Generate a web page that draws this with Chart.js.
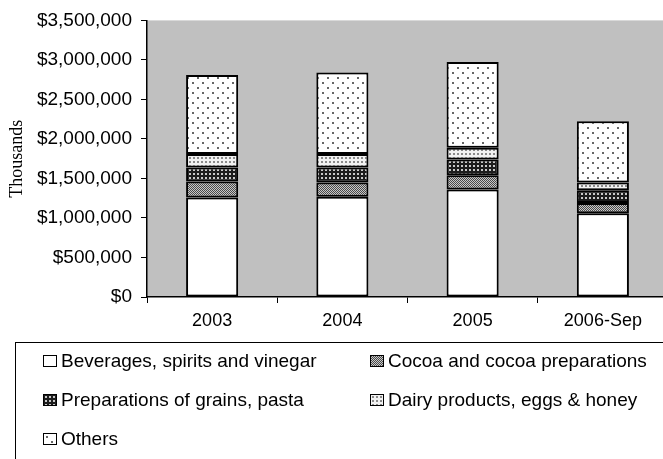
<!DOCTYPE html>
<html>
<head>
<meta charset="utf-8">
<script src="https://cdn.jsdelivr.net/npm/chart.js@4.4.1/dist/chart.umd.min.js"></script>
<style>
  html, body { margin: 0; padding: 0; background: #fff; }
  #wrap { position: relative; width: 663px; height: 459px; overflow: hidden; }
  #chart { position: absolute; left: 0; top: 0; }
  #legend {
    position: absolute; left: 15px; top: 342px; width: 700px; height: 140px;
    border: 1px solid #000; box-sizing: border-box;
    font-family: "Liberation Sans", Arial, sans-serif; font-size: 19px; color: #000;
  }
  .item { position: absolute; height: 24px; display: flex; align-items: center; white-space: nowrap; }
  .item canvas { border: 1px solid #000; margin-right: 4px; }
</style>
</head>
<body>
<div id="wrap">
  <canvas id="chart" width="668" height="345"></canvas>
  <div id="legend"></div>
</div>
<script>
// ==========================================
// DATA
// ==========================================
const categories = ['2003', '2004', '2005', '2006-Sep'];
const beverages = [1260000, 1270000, 1360000, 1060000];
const cocoa     = [200000, 180000, 180000, 130000];
const grains    = [180000, 190000, 200000, 160000];
const dairy     = [170000, 170000, 150000, 100000];
const others    = [1000000, 1030000, 1085000, 775000];
const yMin = 0, yMax = 3500000, yStep = 500000;

const seriesNames = [
  'Beverages, spirits and vinegar',
  'Cocoa and cocoa preparations',
  'Preparations of grains, pasta',
  'Dairy products, eggs & honey',
  'Others'
];

// ==========================================
// FILL PATTERNS (Excel-like hatches)
// ==========================================
function tile(size, bg, dots) {
    const c = document.createElement('canvas');
    c.width = size; c.height = size;
    const g = c.getContext('2d');
    g.fillStyle = bg; g.fillRect(0, 0, size, size);
    dots.forEach(d => { g.fillStyle = d[4]; g.fillRect(d[0], d[1], d[2], d[3]); });
    return c;
}
const ctx = document.getElementById('chart').getContext('2d');
const tiles = [
    tile(4, '#ffffff', []),
    tile(2, '#c8c8c8', [[0, 0, 1, 1, '#4a4a4a'], [1, 1, 1, 1, '#4a4a4a']]),
    tile(4, '#1c1c1c', [[1, 1, 2, 2, '#c8c8c8']]),
    tile(4, '#f2f2f2', [[1, 1, 2, 2, '#8a8a8a']]),
    tile(10, '#ffffff', [[2, 2, 2, 2, '#666666'], [7, 7, 2, 2, '#666666']])
];
const fills = tiles.map(t => ctx.createPattern(t, 'repeat'));

// ==========================================
// PLOT AREA BACKGROUND
// ==========================================
const plotBg = {
    id: 'plotBg',
    beforeDraw(chart) {
        const a = chart.chartArea, c = chart.ctx;
        c.save();
        c.fillStyle = '#c0c0c0';
        c.fillRect(a.left, a.top, a.right - a.left, a.bottom - a.top);
        c.restore();
    }
};

const seriesData = [beverages, cocoa, grains, dairy, others];
const sansFamily = '"Liberation Sans", Arial, sans-serif';

new Chart(ctx, {
    type: 'bar',
    data: {
        labels: categories,
        datasets: seriesData.map((d, i) => ({
            label: seriesNames[i], data: d, backgroundColor: fills[i],
            borderColor: '#000', borderWidth: 2, borderSkipped: false,
            categoryPercentage: 1, barPercentage: 0.4
        }))
    },
    options: {
        responsive: false, animation: false, devicePixelRatio: 1,
        layout: { padding: { top: 17, left: 0, right: 0, bottom: 0 } },
        plugins: { legend: { display: false }, tooltip: { enabled: false } },
        scales: {
            x: {
                stacked: true,
                grid: { offset: true, drawOnChartArea: false, color: '#000', tickLength: 6 },
                border: { color: '#000', width: 1.5 },
                ticks: { color: '#000', font: { family: sansFamily, size: 18 }, padding: 7 },
                afterFit: s => { s.height = 48; }
            },
            y: {
                stacked: true, min: yMin, max: yMax,
                grid: { drawOnChartArea: false, color: '#000', tickLength: 6 },
                border: { color: '#000', width: 1.5 },
                ticks: {
                    color: '#000', font: { family: sansFamily, size: 19 }, padding: 9, stepSize: yStep,
                    callback: v => '$' + Number(v).toLocaleString('en-US')
                },
                title: {
                    display: true, text: 'Thousands', color: '#000',
                    font: { family: '"Liberation Serif", "Times New Roman", serif', size: 18 },
                    padding: { top: 6, bottom: 0 }
                },
                afterFit: s => { s.width = 147; }
            }
        }
    },
    plugins: [plotBg]
});

// ==========================================
// LEGEND
// ==========================================
const legendSpots = [[27, 19], [354, 19], [27, 58], [354, 58], [27, 97]];
const legend = document.getElementById('legend');
seriesNames.forEach((name, i) => {
    const it = document.createElement('div');
    it.className = 'item';
    it.style.left = legendSpots[i][0] + 'px';
    it.style.top = (legendSpots[i][1] - 13) + 'px';
    const sw = document.createElement('canvas');
    sw.width = 12; sw.height = 10;
    const g = sw.getContext('2d');
    g.fillStyle = g.createPattern(tiles[i], 'repeat');
    g.fillRect(0, 0, 12, 10);
    it.appendChild(sw);
    const tx = document.createElement('span');
    tx.textContent = name;
    it.appendChild(tx);
    legend.appendChild(it);
});
</script>
</body>
</html>
